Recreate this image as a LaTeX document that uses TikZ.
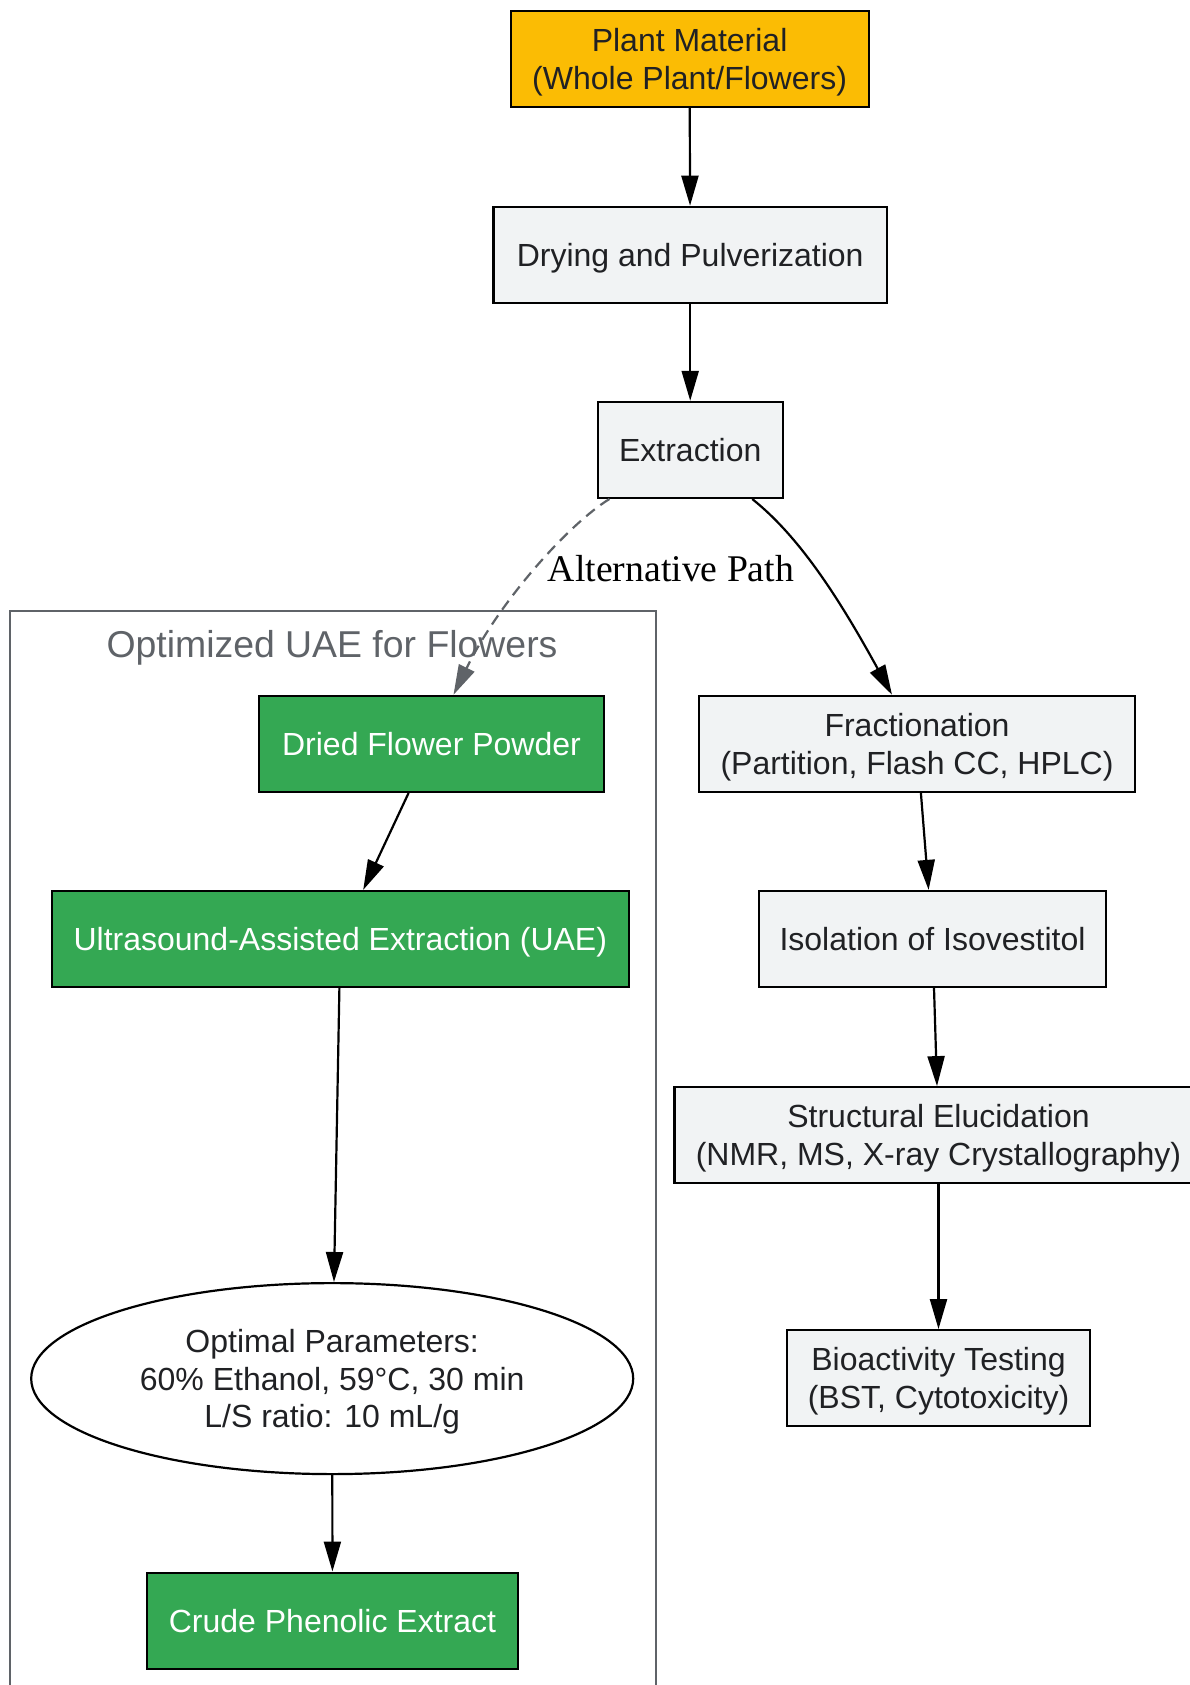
\documentclass[tikz,border=0pt]{standalone}
\usepackage{fontspec}
\setmainfont{Liberation Sans}
\newfontfamily\lserif{Liberation Serif}
\usetikzlibrary{arrows.meta,shapes.geometric}
\definecolor{ngray}{HTML}{F1F3F4}
\definecolor{ngreen}{HTML}{34A853}
\definecolor{nyellow}{HTML}{FBBC04}
\definecolor{ntext}{HTML}{202124}
\definecolor{cgray}{HTML}{5F6368}
\newcommand{\topstrut}{\rule{0pt}{30pt}}
\newcommand{\botstrut}{\rule[-7pt]{0pt}{7pt}}
\tikzset{
  base/.style={draw=black, line width=2.2pt, rectangle, align=center, inner sep=0pt,
    font=\fontsize{32}{37.8}\selectfont, text=ntext, minimum height=96pt},
  graybox/.style={base, fill=ngray},
  greenbox/.style={base, fill=ngreen, text=white},
  yellowbox/.style={base, fill=nyellow},
  ovalbox/.style={draw=black, line width=2.2pt, ellipse, align=center, inner sep=0pt,
    font=\fontsize{32}{37.8}\selectfont, text=ntext, minimum width=602pt, minimum height=191pt},
  edge/.style={line width=2.2pt, draw=black, -{Triangle[length=30pt,width=17pt]}},
  altedge/.style={line width=2.2pt, draw=cgray, dash pattern=on 11pt off 7pt, -{Triangle[length=30pt,width=17pt,fill=cgray]}}
}
\begin{document}
\begin{tikzpicture}[x=1pt,y=-1pt]
\useasboundingbox (0,0) rectangle (1189,1685);
% cluster
\draw[cgray, line width=2.2pt] (9.7,1700) -- (9.7,610.6) -- (655.8,610.6) -- (655.8,1700);
\node[text=cgray, font=\fontsize{37.4}{44}\selectfont] (clab) at (332,648) {Optimized UAE for Flowers};
% nodes
\node[yellowbox, minimum width=358pt] (plant) at (689.6,59.1) {\topstrut Plant Material\\(Whole Plant/Flowers)\botstrut};
\node[graybox, minimum width=393.5pt] (dry) at (690.2,254.8) {\topstrut Drying and Pulverization\botstrut};
\node[graybox, minimum width=185pt] (ext) at (690.2,449.9) {\topstrut Extraction\botstrut};
\node[greenbox, minimum width=345pt] (dfp) at (431.5,743.9) {\topstrut Dried Flower Powder\botstrut};
\node[greenbox, minimum width=577pt] (uae) at (340.3,939) {\topstrut Ultrasound-Assisted Extraction (UAE)\botstrut};
\node[ovalbox] (ell) at (332.2,1378.6) {\topstrut Optimal Parameters:\\60\% Ethanol, 59°C, 30 min\\L/S ratio: 10 mL/g\botstrut};
\node[greenbox, minimum width=371pt] (crude) at (332.5,1620.6) {\topstrut Crude Phenolic Extract\botstrut};
\node[graybox, minimum width=436.4pt] (frac) at (917,743.9) {\topstrut Fractionation\\(Partition, Flash CC, HPLC)\botstrut};
\node[graybox, minimum width=347pt] (iso) at (932.5,939) {\topstrut Isolation of Isovestitol\botstrut};
\node[graybox, minimum width=528pt] (str) at (938.5,1135.2) {\topstrut Structural Elucidation\\(NMR, MS, X-ray Crystallography)\botstrut};
\node[graybox, minimum width=303pt] (bio) at (938.5,1378.2) {\topstrut Bioactivity Testing\\(BST, Cytotoxicity)\botstrut};
% edges
\draw[edge] (plant) -- (dry);
\draw[edge] (dry) -- (ext);
\draw[edge] ([xshift=62pt]ext.south) .. controls (800,537) and (840,600) .. ([xshift=-25pt]frac.north);
\draw[altedge] ([xshift=-80.7pt]ext.south) .. controls (570,523) and (500,600) .. ([xshift=22pt]dfp.north);
\node[font=\lserif\fontsize{37.7}{44}\selectfont, text=black] (alt) at (671,569) {Alternative Path};
\draw[edge] (dfp) -- (uae);
\draw[edge] (uae) -- (ell);
\draw[edge] (ell) -- (crude);
\draw[edge] (frac) -- (iso);
\draw[edge] ([xshift=1.5pt]iso.south) -- ([xshift=-1.5pt]str.north);
\draw[edge] (str.south -| bio.north) -- (bio.north);
\end{tikzpicture}
\end{document}
